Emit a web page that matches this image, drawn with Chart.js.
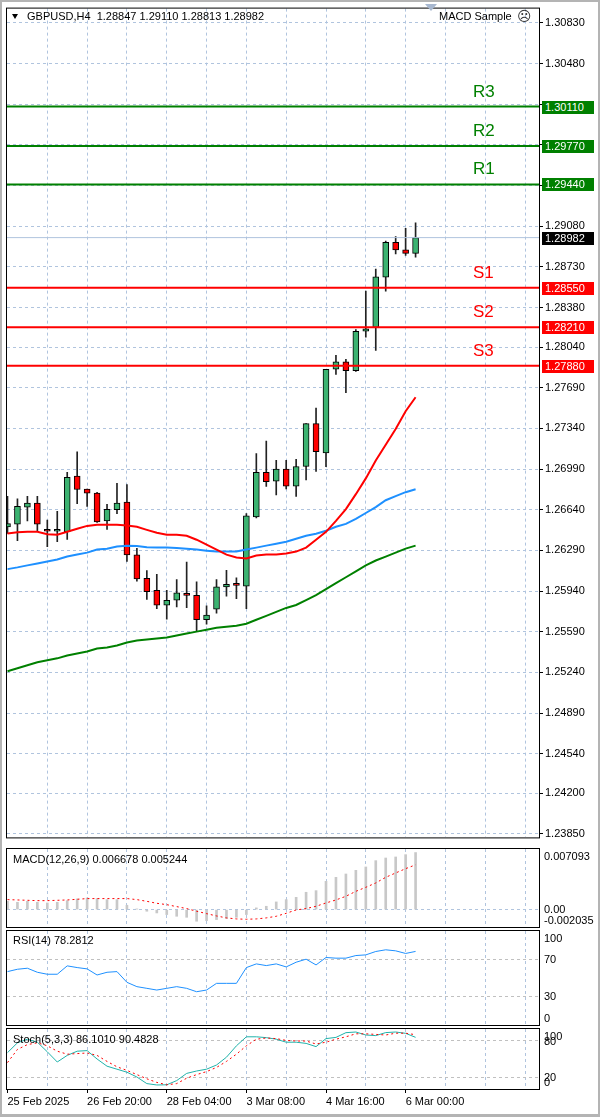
<!DOCTYPE html>
<html>
<head>
<meta charset="utf-8">
<script src="https://cdn.jsdelivr.net/npm/chart.js@4.4.1/dist/chart.umd.min.js"></script>
<style>
body { margin: 0; background: #fff; }
#wrap { position: relative; width: 600px; height: 1117px; overflow: hidden; background: #fff;
        font-family: 'Liberation Sans', Arial, sans-serif; font-size: 11px; color: #000; }
canvas { position: absolute; left: 0; }
.txt { position: absolute; white-space: nowrap; line-height: 13px; z-index: 5; }
.tag { position: absolute; left: 542px; width: 52px; height: 13px; line-height: 13px; color: #fff;
       padding-left: 3px; box-sizing: border-box; z-index: 6; }
.lvl { position: absolute; font-size: 17px; line-height: 20px; white-space: nowrap; z-index: 5; }
.edge { position: absolute; background: #b4b4b4; z-index: 7; }
</style>
</head>
<body>
<div id="wrap">
  <canvas id="cMain" width="600" height="846" style="top:0px"></canvas>
  <canvas id="cMacd" width="600" height="83" style="top:846px"></canvas>
  <canvas id="cRsi" width="600" height="98" style="top:929px"></canvas>
  <canvas id="cStoch" width="600" height="90" style="top:1027px"></canvas>
  <div class="edge" style="left:0;top:0;width:2px;height:1117px"></div>
  <div class="edge" style="left:598px;top:0;width:2px;height:1117px"></div>
  <div class="edge" style="left:0;top:0;width:600px;height:2px"></div>
  <div class="edge" style="left:0;top:1114px;width:600px;height:3px"></div>
</div>
<script>
// ---- data (GBPUSD H4) ----
var opens  = [1.26493,1.26516,1.26663,1.26697,1.26459,1.26455,1.26451,1.26930,1.26817,1.26783,1.26544,1.26640,1.26706,1.26252,1.26050,1.25946,1.25818,1.25861,1.25920,1.25903,1.25693,1.25784,1.25976,1.25991,1.25982,1.26578,1.26961,1.26885,1.26989,1.26842,1.27012,1.27381,1.27129,1.27849,1.27912,1.27836,1.28176,1.28210,1.28641,1.28942,1.28877,1.28847];
var highs  = [1.26755,1.26734,1.26755,1.26755,1.26550,1.26627,1.26961,1.27138,1.26817,1.26790,1.26686,1.26868,1.26857,1.26308,1.26116,1.26085,1.25946,1.26039,1.26189,1.26019,1.25812,1.26039,1.26119,1.26053,1.26606,1.27123,1.27231,1.27066,1.27066,1.27074,1.27381,1.27515,1.27849,1.27968,1.27934,1.28190,1.28522,1.28712,1.28953,1.28990,1.29061,1.29110];
var lows   = [1.26436,1.26374,1.26544,1.26451,1.26323,1.26366,1.26385,1.26692,1.26669,1.26530,1.26470,1.26606,1.26195,1.26025,1.25869,1.25789,1.25699,1.25804,1.25798,1.25591,1.25656,1.25750,1.25897,1.25874,1.25789,1.26570,1.26840,1.26768,1.26819,1.26755,1.26896,1.26970,1.27010,1.27804,1.27648,1.27830,1.28125,1.28011,1.28522,1.28842,1.28828,1.28813];
var closes = [1.26521,1.26669,1.26697,1.26516,1.26455,1.26459,1.26919,1.26814,1.26783,1.26536,1.26644,1.26697,1.26252,1.26045,1.25934,1.25818,1.25861,1.25925,1.25903,1.25693,1.25733,1.25976,1.25997,1.25989,1.26587,1.26961,1.26882,1.26989,1.26842,1.27012,1.27381,1.27140,1.27849,1.27912,1.27836,1.28176,1.28196,1.28644,1.28942,1.28877,1.28847,1.28982];

var maFast = [1.26436,1.26446,1.26450,1.26450,1.26429,1.26425,1.26450,1.26476,1.26501,1.26510,1.26510,1.26510,1.26505,1.26493,1.26467,1.26442,1.26425,1.26425,1.26416,1.26382,1.26340,1.26297,1.26254,1.26229,1.26220,1.26246,1.26254,1.26254,1.26263,1.26280,1.26314,1.26382,1.26450,1.26544,1.26646,1.26774,1.26910,1.27063,1.27199,1.27335,1.27488,1.27608];
var maMid  = [1.26129,1.26144,1.26161,1.26178,1.26195,1.26212,1.26237,1.26254,1.26271,1.26297,1.26305,1.26323,1.26331,1.26327,1.26318,1.26314,1.26314,1.26310,1.26305,1.26297,1.26288,1.26280,1.26280,1.26280,1.26297,1.26314,1.26331,1.26348,1.26365,1.26391,1.26416,1.26433,1.26459,1.26493,1.26518,1.26561,1.26612,1.26663,1.26722,1.26757,1.26791,1.26816];
var maSlow = [1.25250,1.25276,1.25301,1.25327,1.25344,1.25361,1.25386,1.25403,1.25420,1.25446,1.25455,1.25472,1.25497,1.25514,1.25523,1.25531,1.25540,1.25557,1.25574,1.25591,1.25608,1.25625,1.25633,1.25642,1.25659,1.25693,1.25727,1.25761,1.25795,1.25820,1.25863,1.25905,1.25957,1.26008,1.26059,1.26110,1.26161,1.26203,1.26237,1.26271,1.26305,1.26331];

var levelNames  = ['R3', 'R2', 'R1', 'S1', 'S2', 'S3'];
var levelValues = [1.30110, 1.29770, 1.29440, 1.28550, 1.28210, 1.27880];
var bidPrice = 1.28982;

var priceTicks  = [1.30830,1.30480,1.30130,1.29780,1.29430,1.29080,1.28730,1.28380,1.28040,1.27690,1.27340,1.26990,1.26640,1.26290,1.25940,1.25590,1.25240,1.24890,1.24540,1.24200,1.23850];
var hiddenTicks = [1.30130, 1.29780, 1.29430];

var macdMain   = [0.00097,0.00086,0.00097,0.00086,0.00078,0.00086,0.00105,0.00125,0.00136,0.00129,0.00117,0.00117,0.00051,0.00008,-0.00019,-0.00039,-0.00058,-0.00078,-0.00090,-0.00136,-0.00129,-0.00117,-0.00105,-0.00090,-0.00058,0.00020,0.00039,0.00090,0.00117,0.00144,0.00203,0.00222,0.00331,0.00378,0.00417,0.00460,0.00499,0.00573,0.00604,0.00616,0.00643,0.006678];
var macdSignal = [0.00117,0.00113,0.00109,0.00105,0.00105,0.00109,0.00113,0.00121,0.00129,0.00129,0.00129,0.00129,0.00129,0.00117,0.00097,0.00074,0.00058,0.00035,0.00012,-0.00019,-0.00047,-0.00074,-0.00097,-0.00109,-0.00113,-0.00109,-0.00097,-0.00078,-0.00043,-0.00004,0.00012,0.00039,0.00078,0.00113,0.00156,0.00214,0.00261,0.00312,0.00378,0.00429,0.00479,0.005244];
var macdTicks  = [0.007093, 0, -0.002035];
var macdTickLabels = ['0.007093', '0.00', '-0.002035'];

var rsiValues = [56.8,59.3,60.4,56.1,54.0,54.0,62.9,61.1,59.7,53.2,56.1,56.8,45.4,40.8,39.0,37.2,39.0,40.8,39.0,35.4,37.2,44.3,44.3,44.3,61.1,65.0,63.2,65.0,61.8,66.8,70.0,63.9,71.8,71.1,71.1,73.9,74.6,78.2,80.0,78.9,76.1,78.2812];
var rsiTicks = [100, 70, 30, 0];

var stochMain   = [60.6,77,83,78,62,45,56,63,64,50,38,33,28,20,9,6.7,7,14,26,30,33,40,53,72,87,87,85.6,83,78,78,76,70.6,84,86,93.9,95,90,89,94,95,92.8,86.101];
var stochSignal = [44,66,74,77,72,63,58,59,60,56,46,37,31,24,17,11,7,9,18,24,29,36,46,58,72,83,85,84,81,80,80,75,78,83,87,92,92,91,90,93,93,90.4828];
var stochTicks = [100, 80, 20, 0];

var gridBars = [0,4,8,12,16,20,24,28,32,36,40,44,48,52];
var timeLabelBars = [0, 8, 16, 24, 32, 40];
var timeLabels = ['25 Feb 2025', '26 Feb 20:00', '28 Feb 04:00', '3 Mar 08:00', '4 Mar 16:00', '6 Mar 00:00'];

// ---- styles ----
var GRID = '#b0c4de';
var UP = '#3cb371', DOWN = '#ff0000';
var XMIN = -0.05, XMAX = 53.4;

Chart.defaults.font.family = "'Liberation Sans', Arial, sans-serif";
Chart.defaults.font.size = 11;
Chart.defaults.color = '#000';
Chart.defaults.animation = false;

var frame = {
  id: 'frame',
  afterDraw: function (c) {
    var a = c.chartArea, ctx = c.ctx;
    ctx.save();
    ctx.strokeStyle = '#000';
    ctx.lineWidth = 1;
    ctx.strokeRect(a.left - 0.5, a.top - 0.5, a.right - a.left + 1, a.bottom - a.top + 1);
    ctx.restore();
  }
};

function xAxis(showLabels) {
  return {
    type: 'linear', min: XMIN, max: XMAX, offset: false,
    afterBuildTicks: function (s) { s.ticks = gridBars.map(function (v) { return { value: v }; }); },
    afterFit: function (s) { s.height = showLabels ? 28 : 0; },
    grid: {
      offset: false, drawTicks: showLabels, tickLength: 4, tickBorderDash: [],
      color: function (c) { return c.tick && c.tick.value === 0 ? 'rgba(0,0,0,0)' : GRID; },
      tickColor: function (c) { return c.tick && timeLabelBars.indexOf(c.tick.value) >= 0 ? '#000' : 'rgba(0,0,0,0)'; }
    },
    border: { display: false, dash: [3, 3] },
    ticks: {
      display: showLabels, align: 'start', padding: 2, maxRotation: 0, autoSkip: false,
      callback: function (v) { var k = timeLabelBars.indexOf(v); return k < 0 ? '' : timeLabels[k]; }
    }
  };
}

function sideAxis(min, max, levels, color) {
  return {
    position: 'right', min: min, max: max, beginAtZero: false,
    afterBuildTicks: function (s) { s.ticks = levels.map(function (v) { return { value: v }; }); },
    afterFit: function (s) { s.width = 61; },
    grid: { color: color, drawTicks: false },
    border: { display: false, dash: [3, 3] },
    ticks: { display: false }
  };
}

function baseOptions(pad, scales) {
  return {
    responsive: false, devicePixelRatio: 1,
    layout: { padding: pad },
    plugins: { legend: { display: false }, tooltip: { enabled: false } },
    scales: scales
  };
}

function pts(arr) { return arr.map(function (v, i) { return { x: i, y: v }; }); }
function flat(v) { return [{ x: XMIN, y: v }, { x: XMAX, y: v }]; }

// ---- main price chart ----
var mainSets = [
  { type: 'bar', data: highs.map(function (h, i) { return { x: i, y: [lows[i], h] }; }),
    backgroundColor: '#222', barThickness: 1, grouped: false, order: 5 },
  { type: 'bar', data: opens.map(function (o, i) { return { x: i, y: [o, closes[i]] }; }),
    backgroundColor: function (c) { return closes[c.dataIndex] >= opens[c.dataIndex] ? UP : DOWN; },
    borderColor: '#000', borderWidth: 1, borderSkipped: false, barThickness: 6, minBarLength: 2,
    grouped: false, order: 4 },
  { type: 'line', data: pts(maFast), borderColor: '#ff0000', borderWidth: 2, pointRadius: 0, order: 3 },
  { type: 'line', data: pts(maMid), borderColor: '#1e90ff', borderWidth: 2, pointRadius: 0, order: 3 },
  { type: 'line', data: pts(maSlow), borderColor: '#008000', borderWidth: 2, pointRadius: 0, order: 3 },
  { type: 'line', data: flat(bidPrice), borderColor: '#b0c4de', borderWidth: 1, pointRadius: 0, order: 2 }
];
levelValues.forEach(function (v, k) {
  mainSets.push({ type: 'line', data: flat(v), borderColor: levelNames[k][0] === 'R' ? '#008000' : '#ff0000',
    borderWidth: 2, pointRadius: 0, order: 1 });
});

var mainChart = new Chart(document.getElementById('cMain'), {
  type: 'bar',
  data: { datasets: mainSets },
  options: baseOptions({ left: 7, top: 6, right: 0, bottom: 2 }, {
    x: xAxis(false),
    y: {
      position: 'right', min: 1.23820, max: 1.30953, beginAtZero: false,
      afterBuildTicks: function (s) { s.ticks = priceTicks.map(function (v) { return { value: v }; }); },
      afterFit: function (s) { s.width = 61; },
      grid: { color: GRID, tickColor: '#000', tickLength: 4, tickBorderDash: [] },
      border: { display: false, dash: [3, 3] },
      ticks: { padding: 2, autoSkip: false,
        callback: function (v) { return hiddenTicks.indexOf(v) >= 0 ? '' : v.toFixed(5); } }
    }
  }),
  plugins: [frame]
});

// ---- MACD ----
var macdChart = new Chart(document.getElementById('cMacd'), {
  type: 'bar',
  data: { datasets: [
    { type: 'bar', data: pts(macdMain), backgroundColor: '#c8c8c8', barThickness: 2, grouped: false, order: 2 },
    { type: 'line', data: pts(macdSignal), borderColor: '#ff0000', borderWidth: 1, borderDash: [2, 3], pointRadius: 0, order: 1 }
  ] },
  options: baseOptions({ left: 7, top: 3, right: 0, bottom: 2 }, {
    x: xAxis(false),
    y: sideAxis(-0.002035, 0.007093, [0], GRID)
  }),
  plugins: [frame]
});

// ---- RSI ----
var rsiChart = new Chart(document.getElementById('cRsi'), {
  type: 'line',
  data: { datasets: [
    { data: pts(rsiValues), borderColor: '#1e90ff', borderWidth: 1, pointRadius: 0 }
  ] },
  options: baseOptions({ left: 7, top: 2, right: 0, bottom: 2 }, {
    x: xAxis(false),
    y: sideAxis(0, 100, [30, 70], '#c0c0c0')
  }),
  plugins: [frame]
});

// ---- Stochastic ----
var stochChart = new Chart(document.getElementById('cStoch'), {
  type: 'line',
  data: { datasets: [
    { data: pts(stochSignal), borderColor: '#ff0000', borderWidth: 1, borderDash: [2, 3], pointRadius: 0 },
    { data: pts(stochMain), borderColor: '#20b2aa', borderWidth: 1, pointRadius: 0 }
  ] },
  options: baseOptions({ left: 7, top: 2, right: 0, bottom: 0 }, {
    x: xAxis(true),
    y: sideAxis(0, 100, [20, 80], '#c0c0c0')
  }),
  plugins: [frame]
});

// ---- text overlays ----
var wrap = document.getElementById('wrap');
function addDiv(cls, html, left, top, css) {
  var d = document.createElement('div');
  d.className = cls;
  d.innerHTML = html;
  d.style.left = left + 'px';
  d.style.top = top + 'px';
  if (css) d.style.cssText += css;
  wrap.appendChild(d);
  return d;
}

// header
addDiv('txt', '', 12, 14, 'width:0;height:0;border-left:3.5px solid transparent;border-right:3.5px solid transparent;border-top:5px solid #000;');
addDiv('txt', 'GBPUSD,H4&nbsp;&nbsp;' + [opens[41], highs[41], lows[41], closes[41]].map(function (v) { return v.toFixed(5); }).join(' '), 27, 10);
addDiv('txt', '', 425, 4, 'width:0;height:0;border-left:6px solid transparent;border-right:6px solid transparent;border-top:7px solid #a8b8d0;');
addDiv('txt', 'MACD Sample', 439, 10);
addDiv('txt', '\u2639', 517, 8, "font-family:'DejaVu Sans';font-size:14px;line-height:16px;color:#333;");

// indicator captions
addDiv('txt', 'MACD(12,26,9) ' + macdMain[41].toFixed(6) + ' ' + macdSignal[41].toFixed(6), 13, 853);
addDiv('txt', 'RSI(14) ' + rsiValues[41].toFixed(4), 13, 934);
addDiv('txt', 'Stoch(5,3,3) ' + stochMain[41].toFixed(4) + ' ' + stochSignal[41].toFixed(4), 13, 1033);

// price tags and level names
var ys = mainChart.scales.y;
levelValues.forEach(function (v, k) {
  var py = Math.round(ys.getPixelForValue(v));
  var col = levelNames[k][0] === 'R' ? '#008000' : '#ff0000';
  addDiv('tag', v.toFixed(5), 542, py - 6, 'background:' + col + ';');
  addDiv('lvl', levelNames[k], 473, py - 25, 'color:' + col + ';');
});
addDiv('tag', bidPrice.toFixed(5), 542, Math.round(ys.getPixelForValue(bidPrice)) - 6, 'background:#000;');

// indicator axis labels, kept inside their panels
function panelLabels(chart, values, texts) {
  var s = chart.scales.y, top = chart.canvas.offsetTop;
  values.forEach(function (v, k) {
    var py = s.getPixelForValue(v);
    py = Math.min(Math.max(py, s.top + 7), s.bottom - 7);
    addDiv('txt', texts[k], 544, Math.round(top + py - 6.5));
  });
}
panelLabels(macdChart, macdTicks, macdTickLabels);
panelLabels(rsiChart, rsiTicks, rsiTicks.map(String));
panelLabels(stochChart, stochTicks, stochTicks.map(String));
</script>
</body>
</html>
